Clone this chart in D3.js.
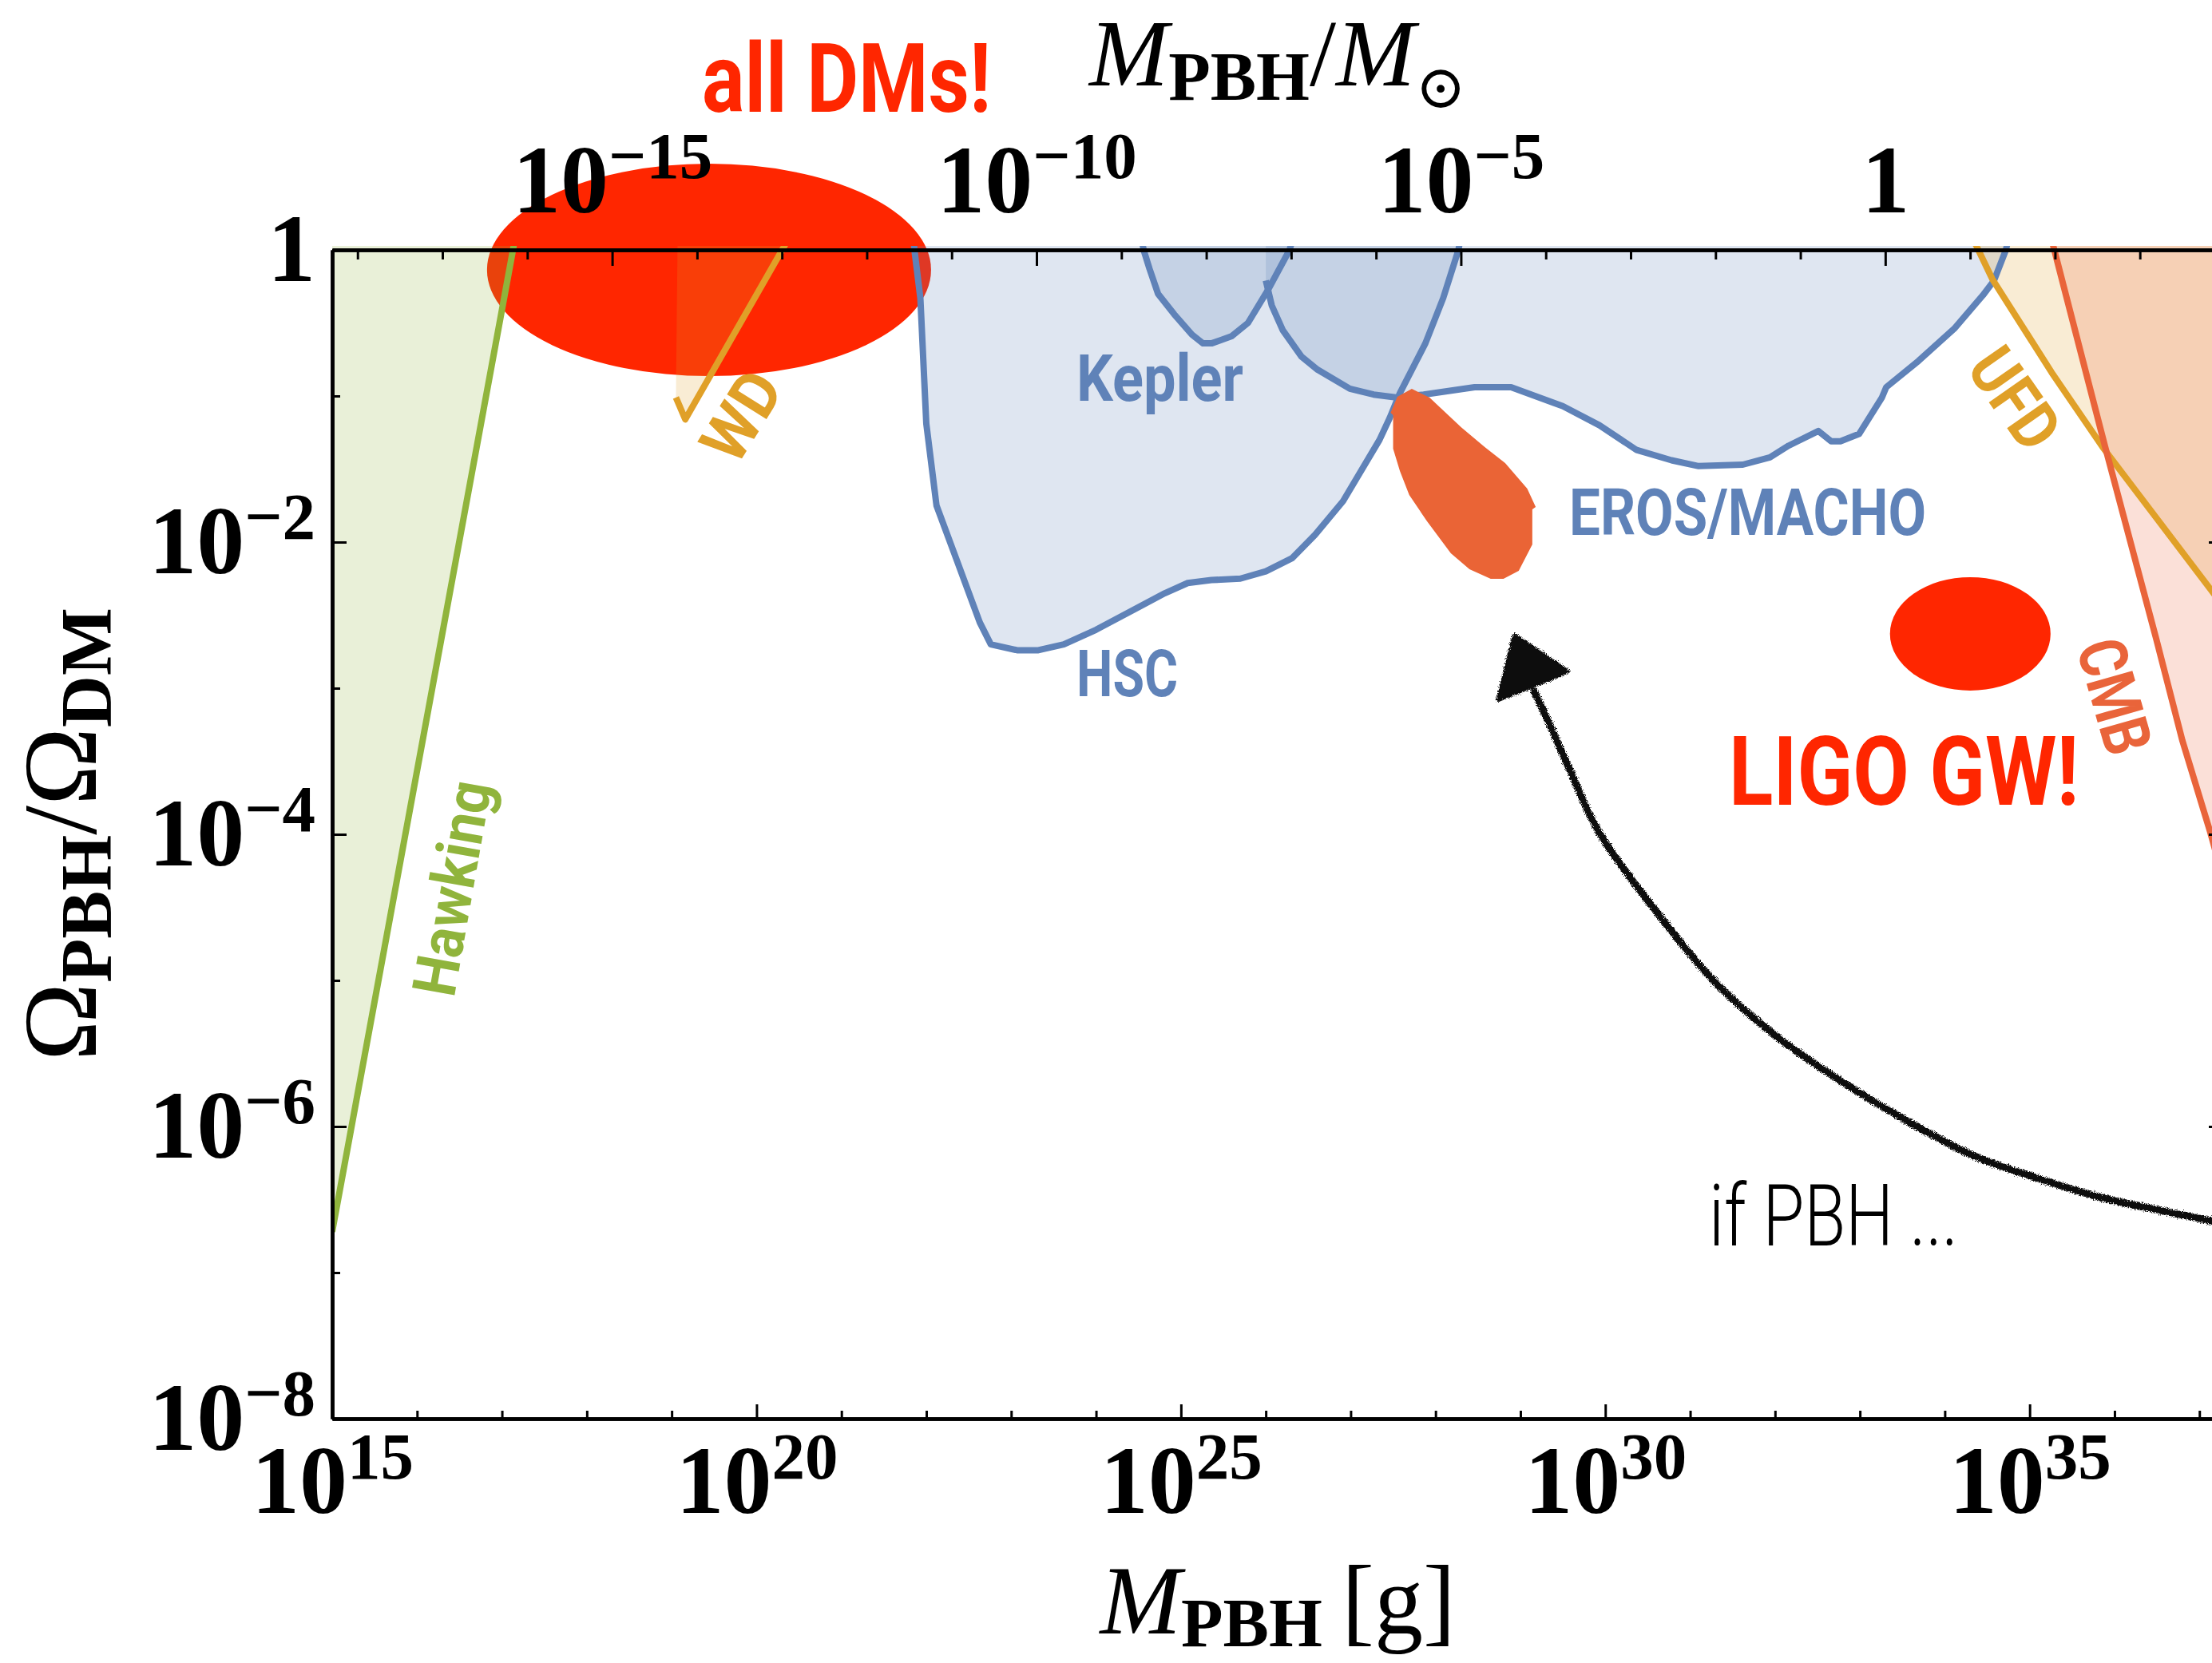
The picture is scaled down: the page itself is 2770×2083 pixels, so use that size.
<!DOCTYPE html>
<html>
<head>
<meta charset="utf-8">
<script src="https://cdn.jsdelivr.net/npm/d3@7"></script>
<style>
  html, body { margin: 0; padding: 0; background: #fff; overflow: hidden; }
  svg { display: block; }
</style>
</head>
<body>
<svg id="chart" width="2770" height="2083"></svg>
<script>
// ---- values: every pair is [log10(M / g), log10(Ω_PBH / Ω_DM)] ----
const LOG_MSUN = Math.log10(1.989e33);

const massDecades  = d3.range(15, 38);          // g
const massLabels   = [15, 20, 25, 30, 35];
const fracDecades  = d3.range(0, -9, -1);
const fracLabels   = [0, -2, -4, -6, -8];
const solarDecades = d3.range(-18, 4);          // M_sun
const solarLabels  = [-15, -10, -5, 0];

// evaporation bound
const hawkingBound = [[15, -6.72], [17.13, 0], [17.16, 0.1]];
const hawkingRegion = [[15, -6.72], [17.16, 0.1], [15, 0.1]];

// white dwarf bound (line with arrow barb)
const wdBound = [[20.40, 0.1], [19.16, -1.16], [19.05, -1.01]];
const wdRegion = [[19.07, 0.1], [20.40, 0.1], [19.16, -1.16], [19.05, -1.01]];

// Subaru HSC microlensing
const hscBound = [[21.845, 0.1], [21.86, 0], [21.93, -0.33], [22.00, -1.19], [22.12, -1.75],
  [22.35, -2.11], [22.63, -2.55], [22.76, -2.70], [23.07, -2.74], [23.32, -2.74], [23.62, -2.70],
  [24.00, -2.60], [24.81, -2.35], [25.08, -2.28], [25.36, -2.26], [25.70, -2.25], [26.00, -2.20],
  [26.31, -2.11], [26.58, -1.95], [26.91, -1.72], [27.34, -1.30], [27.46, -1.15], [27.58, -0.98],
  [27.88, -0.64], [28.09, -0.33], [28.27, 0], [28.30, 0.1]];

// Kepler
const keplerBound = [[24.53, 0.1], [24.56, 0], [24.63, -0.13], [24.73, -0.30], [24.92, -0.44],
  [25.13, -0.58], [25.26, -0.64], [25.36, -0.64], [25.60, -0.59], [25.79, -0.50], [26.03, -0.27],
  [26.28, 0], [26.33, 0.1]];

// Kepler + EROS/MACHO
const erosBound = [[26.00, -0.21], [26.07, -0.38], [26.20, -0.55], [26.42, -0.73], [26.61, -0.82],
  [26.99, -0.95], [27.27, -0.99], [27.53, -1.01], [27.86, -0.99], [28.46, -0.94], [28.89, -0.94],
  [29.50, -1.07], [29.93, -1.20], [30.37, -1.37], [30.78, -1.44], [31.10, -1.48], [31.62, -1.47],
  [31.94, -1.42], [32.16, -1.34], [32.51, -1.24], [32.66, -1.31], [32.77, -1.31], [32.99, -1.26],
  [33.26, -1.01], [33.31, -0.94], [33.69, -0.76], [34.11, -0.54], [34.45, -0.31], [34.58, -0.21],
  [34.72, 0], [34.76, 0.1]];
const erosRegion = [[26.00, 0.1]].concat(erosBound);

// ultra-faint dwarfs
const ufdBound = [[34.31, 0.1], [34.37, 0.03], [34.56, -0.20], [35.26, -0.84], [35.86, -1.35],
  [37.14, -2.33], [37.5, -2.61]];
const ufdRegion = ufdBound.concat([[37.5, 0.1]]);

// CMB accretion
const cmbBound = [[35.245, 0.1], [35.29, 0], [35.89, -1.35], [36.49, -2.66], [36.80, -3.36],
  [37.13, -3.99], [37.5, -4.77]];
const cmbRegion = cmbBound.concat([[37.5, 0.1]]);

// EROS/MACHO hint region
const erosHint = [[27.72, -0.951], [27.93, -1.011], [28.18, -1.148], [28.30, -1.213], [28.58, -1.350],
  [28.82, -1.459], [29.08, -1.634], [29.18, -1.760], [29.14, -1.776], [29.14, -2.016], [28.98, -2.197],
  [28.80, -2.251], [28.65, -2.251], [28.40, -2.186], [28.18, -2.077], [27.90, -1.858], [27.69, -1.678],
  [27.58, -1.514], [27.50, -1.361], [27.50, -1.131], [27.47, -1.115], [27.55, -1.005]];

// ellipses: [centre log M, centre log f, half-width in decades of M, half-height in decades of f]
const allDMEllipse = [19.44, -0.137, 2.616, 0.727];
const ligoEllipse  = [34.30, -2.628, 0.946, 0.388];

// hand-drawn arrow towards the asteroid-mass window
const arrowShaft = [[37.30, -6.66], [37.145, -6.645], [36.63, -6.585], [35.865, -6.49], [35.10, -6.355],
  [34.34, -6.20], [33.58, -5.97], [32.82, -5.705], [32.055, -5.40], [31.29, -5.01], [30.53, -4.475],
  [29.92, -3.98], [29.58, -3.557], [29.346, -3.25], [29.16, -3.02]];
const arrowHead = [[28.93, -2.64], [28.744, -3.077], [29.553, -2.885]];

// ---- layout ----
const svg = d3.select("#chart");
const pLeft = 416, pRight = 2784, pTop = 313, pBottom = 1777;

const x = d3.scaleLog().domain([1e15, 10 ** 37.28]).range([pLeft, pRight]);
const y = d3.scaleLog().domain([1, 1e-8]).range([pTop, pBottom]);
const xSun = d3.scaleLog()
  .domain(x.domain().map(m => m / 10 ** LOG_MSUN))
  .range([pLeft, pRight]);

const px = d => x(10 ** d[0]);
const py = d => y(10 ** d[1]);
const path = d3.line().x(px).y(py);
const closed = d3.line().x(px).y(py).curve(d3.curveLinearClosed);

const defs = svg.append("defs");
defs.append("clipPath").attr("id", "plotClip")
  .append("rect")
  .attr("x", pLeft).attr("y", pTop - 5)
  .attr("width", pRight - pLeft).attr("height", pBottom - pTop + 5);

// pencil-like roughening for the arrow
const rough = defs.append("filter").attr("id", "rough")
  .attr("filterUnits", "userSpaceOnUse")
  .attr("x", 0).attr("y", 0).attr("width", 2770).attr("height", 2083);
rough.append("feTurbulence").attr("type", "fractalNoise")
  .attr("baseFrequency", 1.1).attr("numOctaves", 2).attr("seed", 7).attr("result", "noise");
rough.append("feDisplacementMap").attr("in", "SourceGraphic").attr("in2", "noise")
  .attr("scale", 7).attr("xChannelSelector", "R").attr("yChannelSelector", "G");

const RED = "#ff2600";
const BLUE = "#5f82b8";
const GREEN = "#90b43c";
const GOLD = "#e0a028";
const CMBC = "#e9643a";
const HINT = "#ea6436";

// ---- ellipses (beneath the translucent constraint regions) ----
function drawEllipse(e) {
  const cx = x(10 ** e[0]), cy = y(10 ** e[1]);
  svg.append("ellipse")
    .attr("cx", cx).attr("cy", cy)
    .attr("rx", x(10 ** (e[0] + e[2])) - cx)
    .attr("ry", y(10 ** (e[1] - e[3])) - cy)
    .attr("fill", RED);
}
drawEllipse(allDMEllipse);
drawEllipse(ligoEllipse);

// ---- constraint regions ----
const plot = svg.append("g").attr("clip-path", "url(#plotClip)");

const regions = [
  [hawkingRegion, GREEN], [wdRegion, GOLD], [hscBound, BLUE], [keplerBound, BLUE],
  [erosRegion, BLUE], [ufdRegion, GOLD], [cmbRegion, CMBC]
];
regions.forEach(([pts, c]) => {
  plot.append("path").attr("d", closed(pts)).attr("fill", c).attr("fill-opacity", 0.2);
});

const bounds = [
  [hawkingBound, GREEN], [wdBound, GOLD], [hscBound, BLUE], [keplerBound, BLUE],
  [erosBound, BLUE], [ufdBound, GOLD], [cmbBound, CMBC]
];
bounds.forEach(([pts, c]) => {
  plot.append("path").attr("d", path(pts)).attr("fill", "none")
    .attr("stroke", c).attr("stroke-width", 8).attr("stroke-linejoin", "round");
});

plot.append("path").attr("d", closed(erosHint)).attr("fill", HINT);

// ---- axes ----
function powerLabels(g, expSize, shift) {
  g.selectAll(".tick text").each(function (d) {
    const e = Math.round(Math.log10(d));
    const t = d3.select(this).text(null);
    if (e === 0) { t.text("1"); return; }
    t.append("tspan").text("10");
    t.append("tspan").attr("font-size", expSize).attr("dy", -shift)
      .text(e < 0 ? "\u2212" + (-e) : String(e));
  });
}
function styleAxis(g) {
  g.attr("font-family", "'Liberation Serif', 'Times New Roman', serif")
    .attr("font-weight", "bold").attr("font-size", 120);
  g.select(".domain").attr("stroke", "#000").attr("stroke-width", 4.5);
  g.selectAll(".tick line").attr("stroke", "#000").attr("stroke-width", 3);
  g.selectAll(".tick text").attr("fill", "#000");
}
const pow = e => 10 ** e;
const notIn = list => e => !list.includes(e);

// bottom: grams
const gxMinor = svg.append("g").attr("transform", `translate(0,${pBottom})`)
  .call(d3.axisBottom(x).tickValues(massDecades.filter(notIn(massLabels)).map(pow))
    .tickSizeInner(-10).tickSizeOuter(0).tickFormat(""));
styleAxis(gxMinor);
const gx = svg.append("g").attr("transform", `translate(0,${pBottom})`)
  .call(d3.axisBottom(x).tickValues(massLabels.map(pow))
    .tickSizeInner(-18).tickSizeOuter(0).tickPadding(33));
styleAxis(gx);
powerLabels(gx, 83, 43);

// top: solar masses
const gtMinor = svg.append("g").attr("transform", `translate(0,${pTop})`)
  .call(d3.axisTop(xSun).tickValues(solarDecades.filter(notIn(solarLabels)).map(pow))
    .tickSizeInner(-12).tickSizeOuter(0).tickFormat(""));
styleAxis(gtMinor);
const gt = svg.append("g").attr("transform", `translate(0,${pTop})`)
  .call(d3.axisTop(xSun).tickValues(solarLabels.map(pow))
    .tickSizeInner(-20).tickSizeOuter(0).tickPadding(47));
styleAxis(gt);
powerLabels(gt, 83, 43);

// left: abundance
const gyMinor = svg.append("g").attr("transform", `translate(${pLeft},0)`)
  .call(d3.axisLeft(y).tickValues(fracDecades.filter(notIn(fracLabels)).map(pow))
    .tickSizeInner(-10).tickSizeOuter(0).tickFormat(""));
styleAxis(gyMinor);
const gy = svg.append("g").attr("transform", `translate(${pLeft},0)`)
  .call(d3.axisLeft(y).tickValues(fracLabels.map(pow))
    .tickSizeInner(-18).tickSizeOuter(0).tickPadding(21));
styleAxis(gy);
powerLabels(gy, 83, 43);

// right frame
const grMinor = svg.append("g").attr("transform", `translate(${pRight},0)`)
  .call(d3.axisRight(y).tickValues(fracDecades.filter(notIn(fracLabels)).map(pow))
    .tickSizeInner(-10).tickSizeOuter(0).tickFormat(""));
styleAxis(grMinor);
const gr = svg.append("g").attr("transform", `translate(${pRight},0)`)
  .call(d3.axisRight(y).tickValues(fracLabels.map(pow))
    .tickSizeInner(-18).tickSizeOuter(0).tickFormat(""));
styleAxis(gr);

// ---- axis titles ----
const midX = (pLeft + pRight) / 2, midY = (pTop + pBottom) / 2;
const SERIF = "'Liberation Serif', 'Times New Roman', serif";

const tTop = svg.append("text").attr("x", midX).attr("y", 107)
  .attr("text-anchor", "middle").attr("font-family", SERIF).attr("font-size", 119);
tTop.append("tspan").attr("font-style", "italic").text("M");
tTop.append("tspan").attr("font-weight", "bold").attr("font-size", 86).attr("dy", 18).text("PBH");
tTop.append("tspan").attr("dy", -18).text("/");
tTop.append("tspan").attr("font-style", "italic").text("M");
tTop.append("tspan").attr("font-family", "'DejaVu Serif', serif").attr("font-size", 76)
  .attr("dy", 28).text("\u2299");

const tBot = svg.append("text").attr("x", midX).attr("y", 2046)
  .attr("text-anchor", "middle").attr("font-family", SERIF).attr("font-size", 122);
tBot.append("tspan").attr("font-style", "italic").text("M");
tBot.append("tspan").attr("font-weight", "bold").attr("font-size", 86).attr("dy", 16).text("PBH");
tBot.append("tspan").attr("dy", -16).text("\u2009[g]");

const tLeft = svg.append("text")
  .attr("transform", `translate(120,${midY}) rotate(-90)`)
  .attr("text-anchor", "middle").attr("font-family", SERIF).attr("font-size", 132);
tLeft.append("tspan").text("\u03A9");
tLeft.append("tspan").attr("font-weight", "bold").attr("font-size", 90).attr("dy", 19).text("PBH");
tLeft.append("tspan").attr("dy", -19).text("/\u03A9");
tLeft.append("tspan").attr("font-weight", "bold").attr("font-size", 90).attr("dy", 19).text("DM");

// ---- annotations ----
const SANS = "Roboto, 'DejaVu Sans', sans-serif";
function label(txt, at, opts) {
  const t = svg.append("text")
    .attr("font-family", SANS)
    .attr("font-size", opts.size)
    .attr("font-weight", opts.weight || 700)
    .attr("fill", opts.color)
    .attr("text-anchor", opts.anchor || "start")
    .attr("textLength", opts.len)
    .attr("lengthAdjust", "spacingAndGlyphs")
    .text(txt);
  const X = px(at), Y = py(at);
  if (opts.angle !== undefined) {
    t.attr("transform", `translate(${X},${Y}) rotate(${opts.angle})`);
  } else {
    t.attr("x", X).attr("y", Y);
  }
  return t;
}

label("all DMs!", [19.356, 0.945], { size: 121, color: RED, len: 362 });
label("LIGO GW!", [31.457, -3.798], { size: 121, color: RED, len: 438 });
label("Kepler", [23.769, -1.033], { size: 82, color: BLUE, len: 209 });
label("HSC", [23.769, -3.055], { size: 82, color: BLUE, len: 127 });
label("EROS/MACHO", [29.575, -1.951], { size: 82, color: BLUE, len: 447 });
label("Hawking", [16.656, -4.393], { size: 76, color: GREEN, len: 272, anchor: "middle", angle: -80 });
label("WD", [20.05, -1.22], { size: 82, color: GOLD, len: 116, anchor: "middle", angle: -58 });
label("UFD", [34.60, -1.11], { size: 84, color: GOLD, len: 134, anchor: "middle", angle: 55 });
label("CMB", [35.735, -3.10], { size: 84, color: CMBC, len: 146, anchor: "middle", angle: 74 });
label("if PBH ...", [31.221, -6.814], { size: 108, weight: 300, color: "#000", len: 312 });

// sketched arrow
const arrow = svg.append("g").attr("filter", "url(#rough)");
arrow.append("path")
  .attr("d", d3.line().x(px).y(py).curve(d3.curveCatmullRom)(arrowShaft))
  .attr("fill", "none").attr("stroke", "#111").attr("stroke-width", 9)
  .attr("stroke-linecap", "round");
arrow.append("path").attr("d", closed(arrowHead))
  .attr("fill", "#111").attr("stroke", "#111").attr("stroke-width", 6)
  .attr("stroke-linejoin", "round");
</script>
</body>
</html>
